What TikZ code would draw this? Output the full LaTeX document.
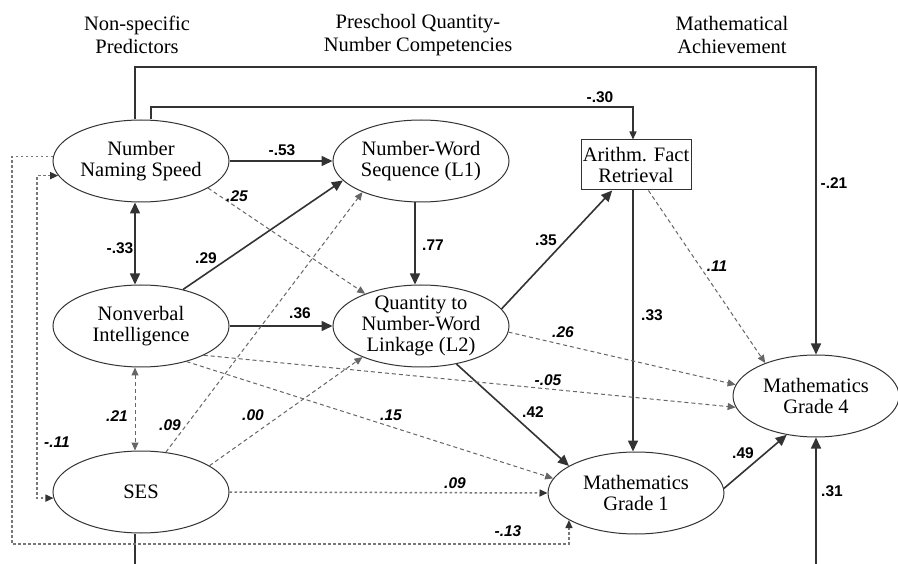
\documentclass[tikz,border=0pt]{standalone}
\usepackage{fontspec}
\setmainfont{Liberation Serif}
\setsansfont{Liberation Sans}
\usetikzlibrary{shapes.geometric,arrows.meta,calc}

\definecolor{ink}{HTML}{333333}
\definecolor{soft}{HTML}{666666}
\definecolor{dotgray}{HTML}{777777}

\tikzset{
  bigtip/.tip={Triangle[length=11pt,width=10pt]},
  smalltip/.tip={Triangle[length=8pt,width=7pt]},
  dottip/.tip={Triangle[length=8pt,width=7pt,color=ink]},
  oval/.style={ellipse, draw=ink, line width=1pt, minimum width=176pt,
    minimum height=82pt, inner sep=0pt},
  factbox/.style={rectangle, draw=ink, line width=1pt, minimum width=110pt,
    minimum height=50pt, inner sep=0pt},
  txt/.style={align=center, inner sep=0pt, text=black,
    font=\fontsize{20.5}{21}\selectfont},
  head/.style={align=center, inner sep=0pt, text=black,
    font=\fontsize{20.5}{23}\selectfont},
  coef/.style={inner sep=0pt, text=black,
    font=\sffamily\bfseries\fontsize{15.5}{16}\selectfont},
  icoef/.style={inner sep=0pt, text=black,
    font=\sffamily\bfseries\itshape\fontsize{15.5}{16}\selectfont},
  solidline/.style={draw=ink, line width=1.6pt},
  solidarr/.style={solidline, -bigtip},
  thinarr/.style={draw=ink, line width=1.3pt, -smalltip},
  dasharr/.style={draw=soft, line width=1pt, dash pattern=on 4pt off 3pt, -smalltip},
  dotarr/.style={draw=dotgray, line width=1.5pt, dash pattern=on 2.5pt off 2.5pt, -dottip},
  dotboth/.style={dotarr, dottip-dottip},
}

\begin{document}
\begin{tikzpicture}[x=1pt,y=-1pt]
\fill[white] (0,0) rectangle (898,564);
\useasboundingbox (0,0) rectangle (898,564);

% column headings
\node[head] (h1) at (137,35) {Non-specific\\Predictors};
\node[head] (h2) at (418,35) {Preschool Quantity-\\Number Competencies};
\node[head] (h3) at (732,35) {Mathematical\\Achievement};

% variables
\node[oval] (nns) at (141,161) {};
\node[oval] (l1)  at (421,161) {};
\node[factbox] (afr) at (636,165) {};
\node[oval] (ni)  at (141,326) {};
\node[oval] (l2)  at (421,326) {};
\node[oval] (ses) at (141,492) {};
\node[oval] (mg1) at (636,493) {};
\node[oval, minimum width=166pt] (mg4) at (816,396) {};

\node[txt] (tnns) at (nns) {Number\\Naming Speed};
\node[txt] (tl1)  at (l1)  {Number-Word\\Sequence (L1)};
\node[txt] (tafr) at (afr) {Arithm. Fact\\Retrieval};
\node[txt] (tni)  at (ni)  {Nonverbal\\Intelligence};
\node[txt] (tl2)  at (l2)  {Quantity to\\Number-Word\\Linkage (L2)};
\node[txt] (tses) at (ses) {SES};
\node[txt] (tmg1) at (mg1) {Mathematics\\Grade 1};
\node[txt] (tmg4) at (mg4) {Mathematics\\Grade 4};

% routing points
\coordinate (topA) at (135,67);
\coordinate (topB) at (151,107);
\coordinate (covL) at (37,300);
\coordinate (outB) at (12,544);
\coordinate (sesout) at (135,564);
\coordinate (mg4in) at (816,564);

% significant paths
\draw[solidarr] (nns.east) -- (l1.west);
\draw[solidline, bigtip-bigtip] ($(nns.south)+(-6,0)$) -- ($(ni.north)+(-6,0)$);
\draw[solidarr] (ni.41) -- (l1.194);
\draw[solidarr] (ni.east) -- (l2.west);
\draw[solidarr] ($(l1.south)+(-6,0)$) -- ($(l2.north)+(-6,0)$);
\draw[solidarr] (l2.12) -- (afr.227);
\draw[solidarr] ($(afr.south)+(-3,0)$) -- ($(mg1.north)+(-3,0)$);
\draw[solidarr] (l2.-47) -- (mg1.158);
\draw[solidarr] (mg1.3) -- (mg4.233);
\draw[solidarr] (mg4in) -- (mg4.south);
\draw[solidline] ($(ses.south)+(-6,0)$) -- (sesout);
\draw[solidarr] ($(nns.north)+(-6,0)$) -- (topA) -| (mg4.north);
\draw[thinarr] ($(nns.north)+(10,0)$) -- (topB) -| ($(afr.north)+(-3,0)$);

% non-significant paths
\draw[dasharr] (nns.-22) -- (l2.150);
\draw[dasharr] (ni.-25) -- (mg4.188);
\draw[dasharr] (ni.-38) -- (mg1.170);
\draw[dasharr] (l2.-4) -- (mg4.172);
\draw[dasharr] (afr.-64) -- (mg4.147);
\draw[dasharr] (ses.58) -- (l1.208);
\draw[dasharr] (ses.21) -- (l2.208);
\draw[dasharr, smalltip-smalltip] ($(ni.south)+(-6,0)$) -- ($(ses.north)+(-6,0)$);
\draw[dotarr] (ses.east) -- (mg1.west);
\draw[dotboth] (nns.190) -| (covL) |- (ses.184);
\draw[dotarr] (nns.177) -| (outB) -| (mg1.202);

% path coefficients
\node[coef] (c1)  at (282,150) {-.53};
\node[coef] (c2)  at (600,97)  {-.30};
\node[coef] (c3)  at (834,183) {-.21};
\node[coef] (c4)  at (120,248) {-.33};
\node[coef] (c5)  at (206,258) {.29};
\node[coef] (c6)  at (300,313) {.36};
\node[coef] (c7)  at (433,245) {.77};
\node[coef] (c8)  at (546,240) {.35};
\node[coef] (c9)  at (652,315) {.33};
\node[coef] (c10) at (533,412) {.42};
\node[coef] (c11) at (743,453) {.49};
\node[coef] (c12) at (832,491) {.31};

\node[icoef] (d1)  at (237,196) {.25};
\node[icoef] (d2)  at (563,332) {.26};
\node[icoef] (d3)  at (717,266) {.11};
\node[icoef] (d4)  at (548,380) {-.05};
\node[icoef] (d5)  at (391,415) {.15};
\node[icoef] (d6)  at (455,483) {.09};
\node[icoef] (d7)  at (508,531) {-.13};
\node[icoef] (d8)  at (117,416) {.21};
\node[icoef] (d9)  at (170,425) {.09};
\node[icoef] (d10) at (253,415) {.00};
\node[icoef] (d11) at (57,442)  {-.11};
\end{tikzpicture}
\end{document}
